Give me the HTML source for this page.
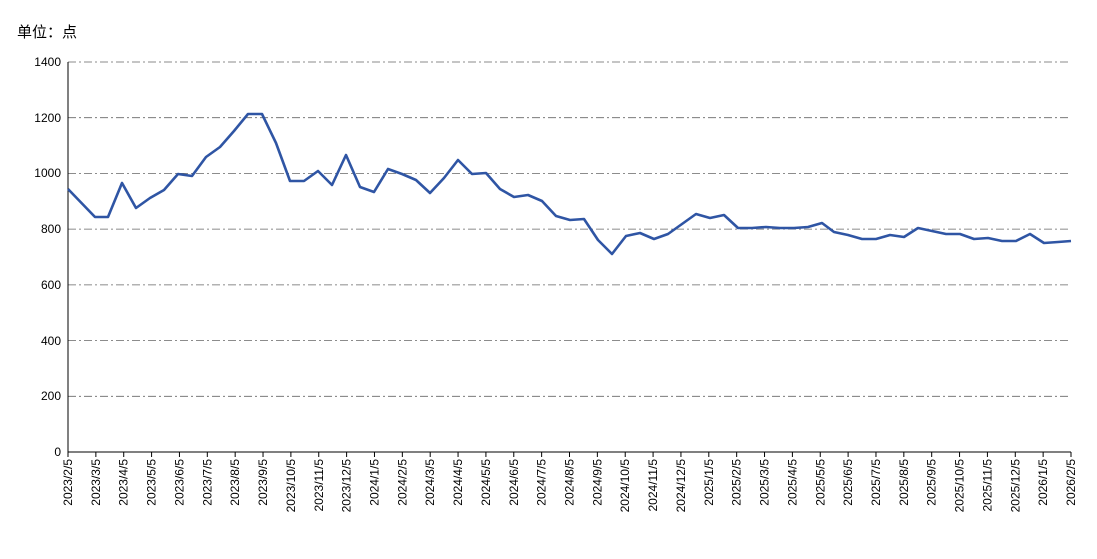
<!DOCTYPE html>
<html><head><meta charset="utf-8"><style>
body{margin:0;background:#fff;width:1097px;height:554px;overflow:hidden}
text{font-family:"Liberation Sans","Noto Sans CJK SC",sans-serif;font-size:12px;fill:#000}
</style></head><body>
<svg width="1097" height="554" xmlns="http://www.w3.org/2000/svg">
<text x="17" y="37" style="font-size:15px">单位：点</text>
<g stroke="#666" stroke-width="0.8" stroke-dasharray="8,3,2,3">
<line x1="68" y1="62" x2="1071" y2="62"/>
<line x1="68" y1="117.7" x2="1071" y2="117.7"/>
<line x1="68" y1="173.4" x2="1071" y2="173.4"/>
<line x1="68" y1="229.1" x2="1071" y2="229.1"/>
<line x1="68" y1="284.9" x2="1071" y2="284.9"/>
<line x1="68" y1="340.6" x2="1071" y2="340.6"/>
<line x1="68" y1="396.3" x2="1071" y2="396.3"/>
</g>
<line x1="68" y1="62" x2="68" y2="452" stroke="#000"/>
<line x1="68" y1="452" x2="1071" y2="452" stroke="#000"/>
<g text-anchor="end">
<text x="61" y="66">1400</text><text x="61" y="122">1200</text><text x="61" y="177">1000</text>
<text x="61" y="233">800</text><text x="61" y="289">600</text><text x="61" y="345">400</text>
<text x="61" y="400">200</text><text x="61" y="456">0</text>
</g>
<g id="ticks" stroke="#000"></g>
<g id="labels"></g>
<polyline fill="none" stroke="#2f55a4" stroke-width="2.6" stroke-linejoin="round" points="68,189 95,217 108,217 122,183 136,208 150,198 164,190 178,174 192,176 206,157 220,147 234,131 248,114 262,114 276,143 290,181 304,181 318,171 332,185 346,155 360,187 374,192 388,169 402,174 416,180 430,193 444,178 458,160 472,174 486,173 500,189 514,197 528,195 542,201 556,216 570,220 584,219 598,240 612,254 626,236 640,233 654,239 668,234 682,224 696,214 710,218 724,215 738,228 752,228 766,227 780,228 794,228 808,227 822,223 834,232 848,235 862,239 876,239 890,235 904,237 918,228 932,231 946,234 960,234 974,239 988,238 1002,241 1016,241 1030,234 1044,243 1058,242 1071,241"/>
</svg>
<script>
const labs=[];let y=2023,m=2;
for(let i=0;i<37;i++){labs.push(y+"/"+m+"/5");m++;if(m>12){m=1;y++;}}
const ns="http://www.w3.org/2000/svg";
const t=document.getElementById("ticks"),l=document.getElementById("labels");
labs.forEach((s,i)=>{const x=68+i*1003/36;
const ln=document.createElementNS(ns,"line");ln.setAttribute("x1",x);ln.setAttribute("x2",x);ln.setAttribute("y1",452);ln.setAttribute("y2",457);t.appendChild(ln);
const tx=document.createElementNS(ns,"text");tx.setAttribute("transform",`translate(${x+4},459) rotate(-90)`);tx.setAttribute("text-anchor","end");tx.textContent=s;l.appendChild(tx);});
</script>
</body></html>
